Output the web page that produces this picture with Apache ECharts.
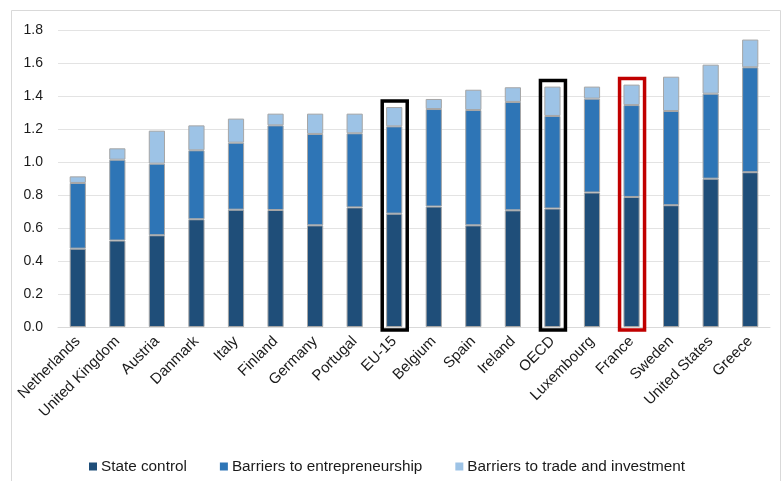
<!DOCTYPE html>
<html>
<head>
<meta charset="utf-8">
<script src="https://cdn.jsdelivr.net/npm/echarts@6/dist/echarts.min.js"></script>
<style>html,body{margin:0;padding:0;background:#fff;}#c{width:781px;height:481px;}</style>
</head>
<body>
<div id="c"></div>
<script>
const categories = ['Netherlands','United Kingdom','Austria','Danmark','Italy','Finland','Germany','Portugal','EU-15','Belgium','Spain','Ireland','OECD','Luxembourg','France','Sweden','United States','Greece'];
const stateControl = [0.475,0.524,0.556,0.653,0.711,0.709,0.616,0.725,0.687,0.730,0.616,0.707,0.718,0.815,0.788,0.738,0.899,0.938];
const barriersEntrepreneurship = [0.398,0.490,0.434,0.418,0.406,0.513,0.554,0.449,0.529,0.591,0.699,0.657,0.561,0.569,0.557,0.571,0.515,0.636];
const barriersTrade = [0.040,0.069,0.200,0.151,0.146,0.071,0.123,0.119,0.117,0.061,0.123,0.089,0.178,0.073,0.124,0.208,0.176,0.168];
const seriesNames = ['State control','Barriers to entrepreneurship','Barriers to trade and investment'];
const yTicks = ['0.0','0.2','0.4','0.6','0.8','1.0','1.2','1.4','1.6','1.8'];
const highlighted = ['EU-15','OECD','France'];

const boxColour = {'EU-15':'#000000','OECD':'#000000','France':'#C00000'};
const boxData = highlighted.map(name => {
  const i = categories.indexOf(name);
  return {value:[i, stateControl[i] + barriersEntrepreneurship[i] + barriersTrade[i]], name: name};
});

const FONT = '"Liberation Sans", Arial, sans-serif';
const chart = echarts.init(document.getElementById('c'), null, {renderer:'canvas'});
const barStyle = (c) => ({color:c, borderColor:'#a6a6a6', borderWidth:1});
chart.setOption({
  animation:false,
  backgroundColor:'#fff',
  graphic:[{type:'rect', left:9, top:8, shape:{width:769, height:490}, style:{fill:'none', stroke:'#d9d9d9', lineWidth:1}, z:-10}],
  grid:{left:58, right:11, top:30, height:297},
  legend:{
    data:seriesNames, left:84, top:454, itemWidth:8, itemHeight:8, itemGap:33,
    icon:'rect',
    itemStyle:{borderWidth:0},
    textStyle:{fontFamily:FONT, fontSize:15.3, color:'#1a1a1a', padding:[0,0,0,-1]}
  },
  xAxis:{
    type:'category', data:categories,
    axisLine:{show:true, lineStyle:{color:'#d9d9d9', width:1}},
    axisTick:{show:false},
    axisLabel:{interval:0, rotate:45, margin:12, fontFamily:FONT, fontSize:15, color:'#1a1a1a'}
  },
  yAxis:{
    type:'value', min:0, max:1.8, interval:0.2,
    axisLine:{show:false}, axisTick:{show:false},
    splitLine:{lineStyle:{color:'#e3e3e3', width:1.2}},
    axisLabel:{margin:15, fontFamily:FONT, fontSize:14, color:'#1a1a1a',
      formatter:(v)=> yTicks[Math.round(v/0.2)]}
  },
  series:[
    {name:seriesNames[0], type:'bar', stack:'t', data:stateControl, barWidth:'41%', itemStyle:barStyle('#1F4E79')},
    {name:seriesNames[1], type:'bar', stack:'t', data:barriersEntrepreneurship, itemStyle:barStyle('#2E75B6')},
    {name:seriesNames[2], type:'bar', stack:'t', data:barriersTrade, itemStyle:barStyle('#9DC3E6')},
    {type:'custom', data:boxData, clip:false, z:10, silent:true,
      renderItem:(params, api) => {
        const top = api.coord([api.value(0), api.value(1)]);
        const zero = api.coord([api.value(0), 0]);
        const name = boxData[params.dataIndex].name;
        return {type:'rect',
          shape:{x:top[0]-12, y:top[1]-6, width:25, height:zero[1]-top[1]+9},
          style:{fill:'none', stroke:boxColour[name], lineWidth:3.5}};
      }}
  ]
});
</script>
</body>
</html>
